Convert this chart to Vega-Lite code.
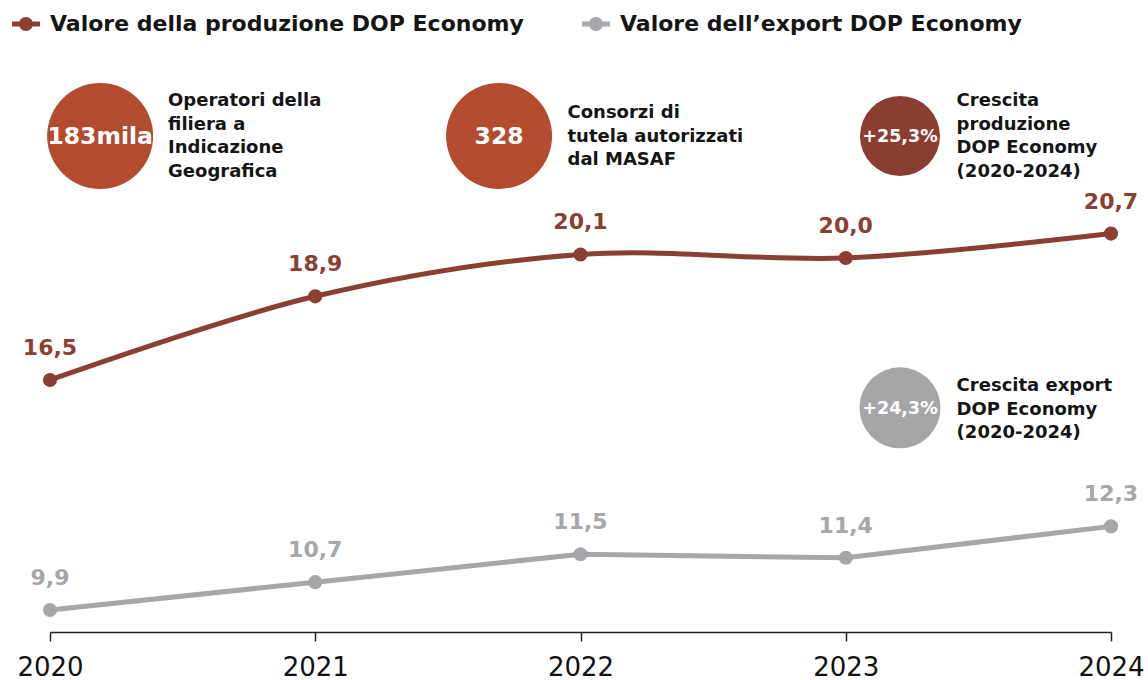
{
  "$schema": "https://vega.github.io/schema/vega-lite/v6.json",
  "width": 1061,
  "height": 632,
  "autosize": {"type": "none"},
  "padding": {"left": 50, "top": 0, "right": 37, "bottom": 48},
  "background": "white",
  "config": {
    "view": {"stroke": null},
    "font": "DejaVu Sans",
    "locale": {"number": {"decimal": ",", "thousands": ".", "grouping": [3], "currency": ["", " €"]}}
  },
  "datasets": {
    "series": [
      {"year": 2020, "serie": "Valore della produzione DOP Economy", "valore": 16.5},
      {"year": 2021, "serie": "Valore della produzione DOP Economy", "valore": 18.9},
      {"year": 2022, "serie": "Valore della produzione DOP Economy", "valore": 20.1},
      {"year": 2023, "serie": "Valore della produzione DOP Economy", "valore": 20.0},
      {"year": 2024, "serie": "Valore della produzione DOP Economy", "valore": 20.7},
      {"year": 2020, "serie": "Valore dell’export DOP Economy", "valore": 9.9},
      {"year": 2021, "serie": "Valore dell’export DOP Economy", "valore": 10.7},
      {"year": 2022, "serie": "Valore dell’export DOP Economy", "valore": 11.5},
      {"year": 2023, "serie": "Valore dell’export DOP Economy", "valore": 11.4},
      {"year": 2024, "serie": "Valore dell’export DOP Economy", "valore": 12.3}
    ],
    "circles": [
      {"year": 2020.189, "valore": 23.5, "label": "183mila", "kind": "big"},
      {"year": 2021.693, "valore": 23.5, "label": "328", "kind": "big"},
      {"year": 2023.2045, "valore": 23.5, "label": "+25,3%", "kind": "prod"},
      {"year": 2023.2045, "valore": 15.7, "label": "+24,3%", "kind": "exp"}
    ],
    "notes": [
      {"year": 2020.445, "valore": 24.5, "lines": ["Operatori della", "filiera a", "Indicazione", "Geografica"]},
      {"year": 2021.951, "valore": 24.16, "lines": ["Consorzi di", "tutela autorizzati", "dal MASAF"]},
      {"year": 2023.418, "valore": 24.5, "lines": ["Crescita", "produzione", "DOP Economy", "(2020-2024)"]},
      {"year": 2023.418, "valore": 16.33, "lines": ["Crescita export", "DOP Economy", "(2020-2024)"]}
    ]
  },
  "encoding": {
    "x": {
      "field": "year", "type": "quantitative",
      "scale": {"domain": [2020, 2024], "nice": false, "zero": false},
      "axis": {
        "values": [2020, 2021, 2022, 2023, 2024], "format": "d", "title": null, "grid": false,
        "labelFontSize": 26, "labelColor": "#111111", "labelFont": "DejaVu Sans", "labelFontWeight": 400,
        "tickSize": 9, "tickColor": "#222222", "tickWidth": 1.5, "domainColor": "#222222", "domainWidth": 1.5,
        "labelPadding": 13, "labelFlush": false, "labelOverlap": false
      }
    },
    "y": {
      "field": "valore", "type": "quantitative",
      "scale": {"domain": [9.27, 27.4], "nice": false, "zero": false},
      "axis": null
    }
  },
  "layer": [
    {
      "data": {"name": "series"},
      "transform": [{"filter": "datum.serie === 'Valore della produzione DOP Economy'"}],
      "mark": {"type": "line", "interpolate": "catmull-rom", "color": "#8B3F30", "strokeWidth": 5}
    },
    {
      "data": {"name": "series"},
      "transform": [{"filter": "datum.serie === 'Valore dell’export DOP Economy'"}],
      "mark": {"type": "line", "color": "#A5A7AA", "strokeWidth": 5}
    },
    {
      "data": {"name": "series"},
      "mark": {"type": "point", "filled": true, "size": 200, "opacity": 1, "shape": "circle"},
      "encoding": {
        "color": {
          "field": "serie", "type": "nominal",
          "scale": {"domain": ["Valore della produzione DOP Economy", "Valore dell’export DOP Economy"], "range": ["#8B3F30", "#A5A7AA"]},
          "legend": {
            "title": null, "orient": "none", "direction": "horizontal",
            "legendX": -38, "legendY": 10, "padding": 0,
            "symbolType": "M-1,-0.18H1V0.18H-1Z M-0.5,0A0.5,0.5 0 1,1 0.5,0A0.5,0.5 0 1,1 -0.5,0Z",
            "symbolSize": 784, "symbolOpacity": 1, "symbolStrokeWidth": 0,
            "labelFontSize": 22, "labelFontWeight": 700, "labelColor": "#151515", "labelFont": "DejaVu Sans",
            "labelOffset": 10, "columnPadding": 58, "labelLimit": 700
          }
        }
      }
    },
    {
      "data": {"name": "series"},
      "mark": {"type": "text", "fontSize": 22, "fontWeight": 700, "baseline": "middle", "align": "center", "dy": -32},
      "encoding": {
        "text": {"field": "valore", "type": "quantitative", "format": ".1f"},
        "fill": {
          "field": "serie", "type": "nominal",
          "scale": {"domain": ["Valore della produzione DOP Economy", "Valore dell’export DOP Economy"], "range": ["#8B3F30", "#A5A7AA"]},
          "legend": null
        }
      }
    },
    {
      "data": {"name": "circles"},
      "transform": [{"filter": "datum.kind === 'big'"}],
      "mark": {"type": "point", "shape": "circle", "filled": true, "opacity": 1, "size": 11236, "color": "#B34B2F"}
    },
    {
      "data": {"name": "circles"},
      "transform": [{"filter": "datum.kind === 'prod'"}],
      "mark": {"type": "point", "shape": "circle", "filled": true, "opacity": 1, "size": 6400, "color": "#8A3E30"}
    },
    {
      "data": {"name": "circles"},
      "transform": [{"filter": "datum.kind === 'exp'"}],
      "mark": {"type": "point", "shape": "circle", "filled": true, "opacity": 1, "size": 6561, "color": "#A5A6A8"}
    },
    {
      "data": {"name": "circles"},
      "transform": [{"filter": "datum.kind === 'big'"}],
      "mark": {"type": "text", "fontSize": 23.5, "fontWeight": 700, "color": "white", "align": "center", "baseline": "middle", "dy": 1},
      "encoding": {"text": {"field": "label"}}
    },
    {
      "data": {"name": "circles"},
      "transform": [{"filter": "datum.kind !== 'big'"}],
      "mark": {"type": "text", "fontSize": 17.5, "fontWeight": 700, "color": "white", "align": "center", "baseline": "middle", "dy": 1},
      "encoding": {"text": {"field": "label"}}
    },
    {
      "data": {"name": "notes"},
      "mark": {"type": "text", "fontSize": 18, "fontWeight": 700, "color": "#151515", "align": "left", "baseline": "middle", "lineHeight": 23.7},
      "encoding": {"text": {"field": "lines"}}
    }
  ]
}
